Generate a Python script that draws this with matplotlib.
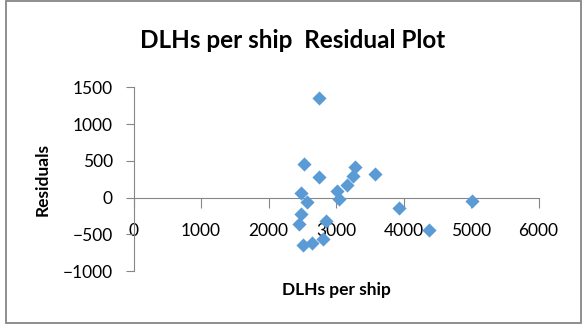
import matplotlib
matplotlib.use("Agg")
import matplotlib.pyplot as plt
from matplotlib.patches import Rectangle

# residuals
dlhs = [2751, 2524, 2741, 3284, 3250, 3161, 3022, 3043, 3580, 2480,
        2569, 2480, 2455, 2845, 2806, 2509, 2643, 3936, 4381, 5013]
resid = [1350, 456, 275, 419, 297, 166, 88, -25, 320, 57,
         -61, -220, -360, -324, -560, -651, -624, -138, -442, -43]

x_ticks = [0, 1000, 2000, 3000, 4000, 5000, 6000]
y_ticks = [-1000, -500, 0, 500, 1000, 1500]

plt.rcParams['font.family'] = ['Lato', 'DejaVu Sans']

fig = plt.figure(figsize=(5.86, 3.29), dpi=100)
ax = fig.add_axes([133.5/586, 1-271/329, 405/586, 183.7/329])

gray = '#868686'
ax.scatter(dlhs, resid, marker='D', s=52, color='#5B9BD5', zorder=3, linewidths=0)

ax.set_xlim(0, 6000)
ax.set_ylim(-1000, 1500)
ax.spines['top'].set_visible(False)
ax.spines['right'].set_visible(False)
ax.spines['bottom'].set_position(('data', 0))
ax.spines['bottom'].set_color(gray)
ax.spines['left'].set_color(gray)
ax.set_xticks(x_ticks)
ax.set_yticks(y_ticks)
ax.tick_params(axis='x', direction='out', length=7, color=gray, pad=11, labelsize=12.5)
ax.tick_params(axis='y', direction='out', length=6, color=gray, pad=9, labelsize=12.5)

fig.text(293, 329-40, 'DLHs per ship  Residual Plot', transform=None,
         ha='center', va='center', fontsize=17.5, fontweight='bold')
fig.text(336/586, 1-290/329, 'DLHs per ship', ha='center', va='center',
         fontsize=12.5, fontweight='bold')
fig.text(43/586, 1-179/329, 'Residuals', ha='center', va='center',
         rotation=90, fontsize=12.5, fontweight='bold')

fig.patches.append(Rectangle((5.5/586, 1-323/329), 575.5/586, 322/329,
                             transform=fig.transFigure, fill=False,
                             edgecolor=gray, linewidth=1.3))

plt.savefig('out.png', dpi=100)
